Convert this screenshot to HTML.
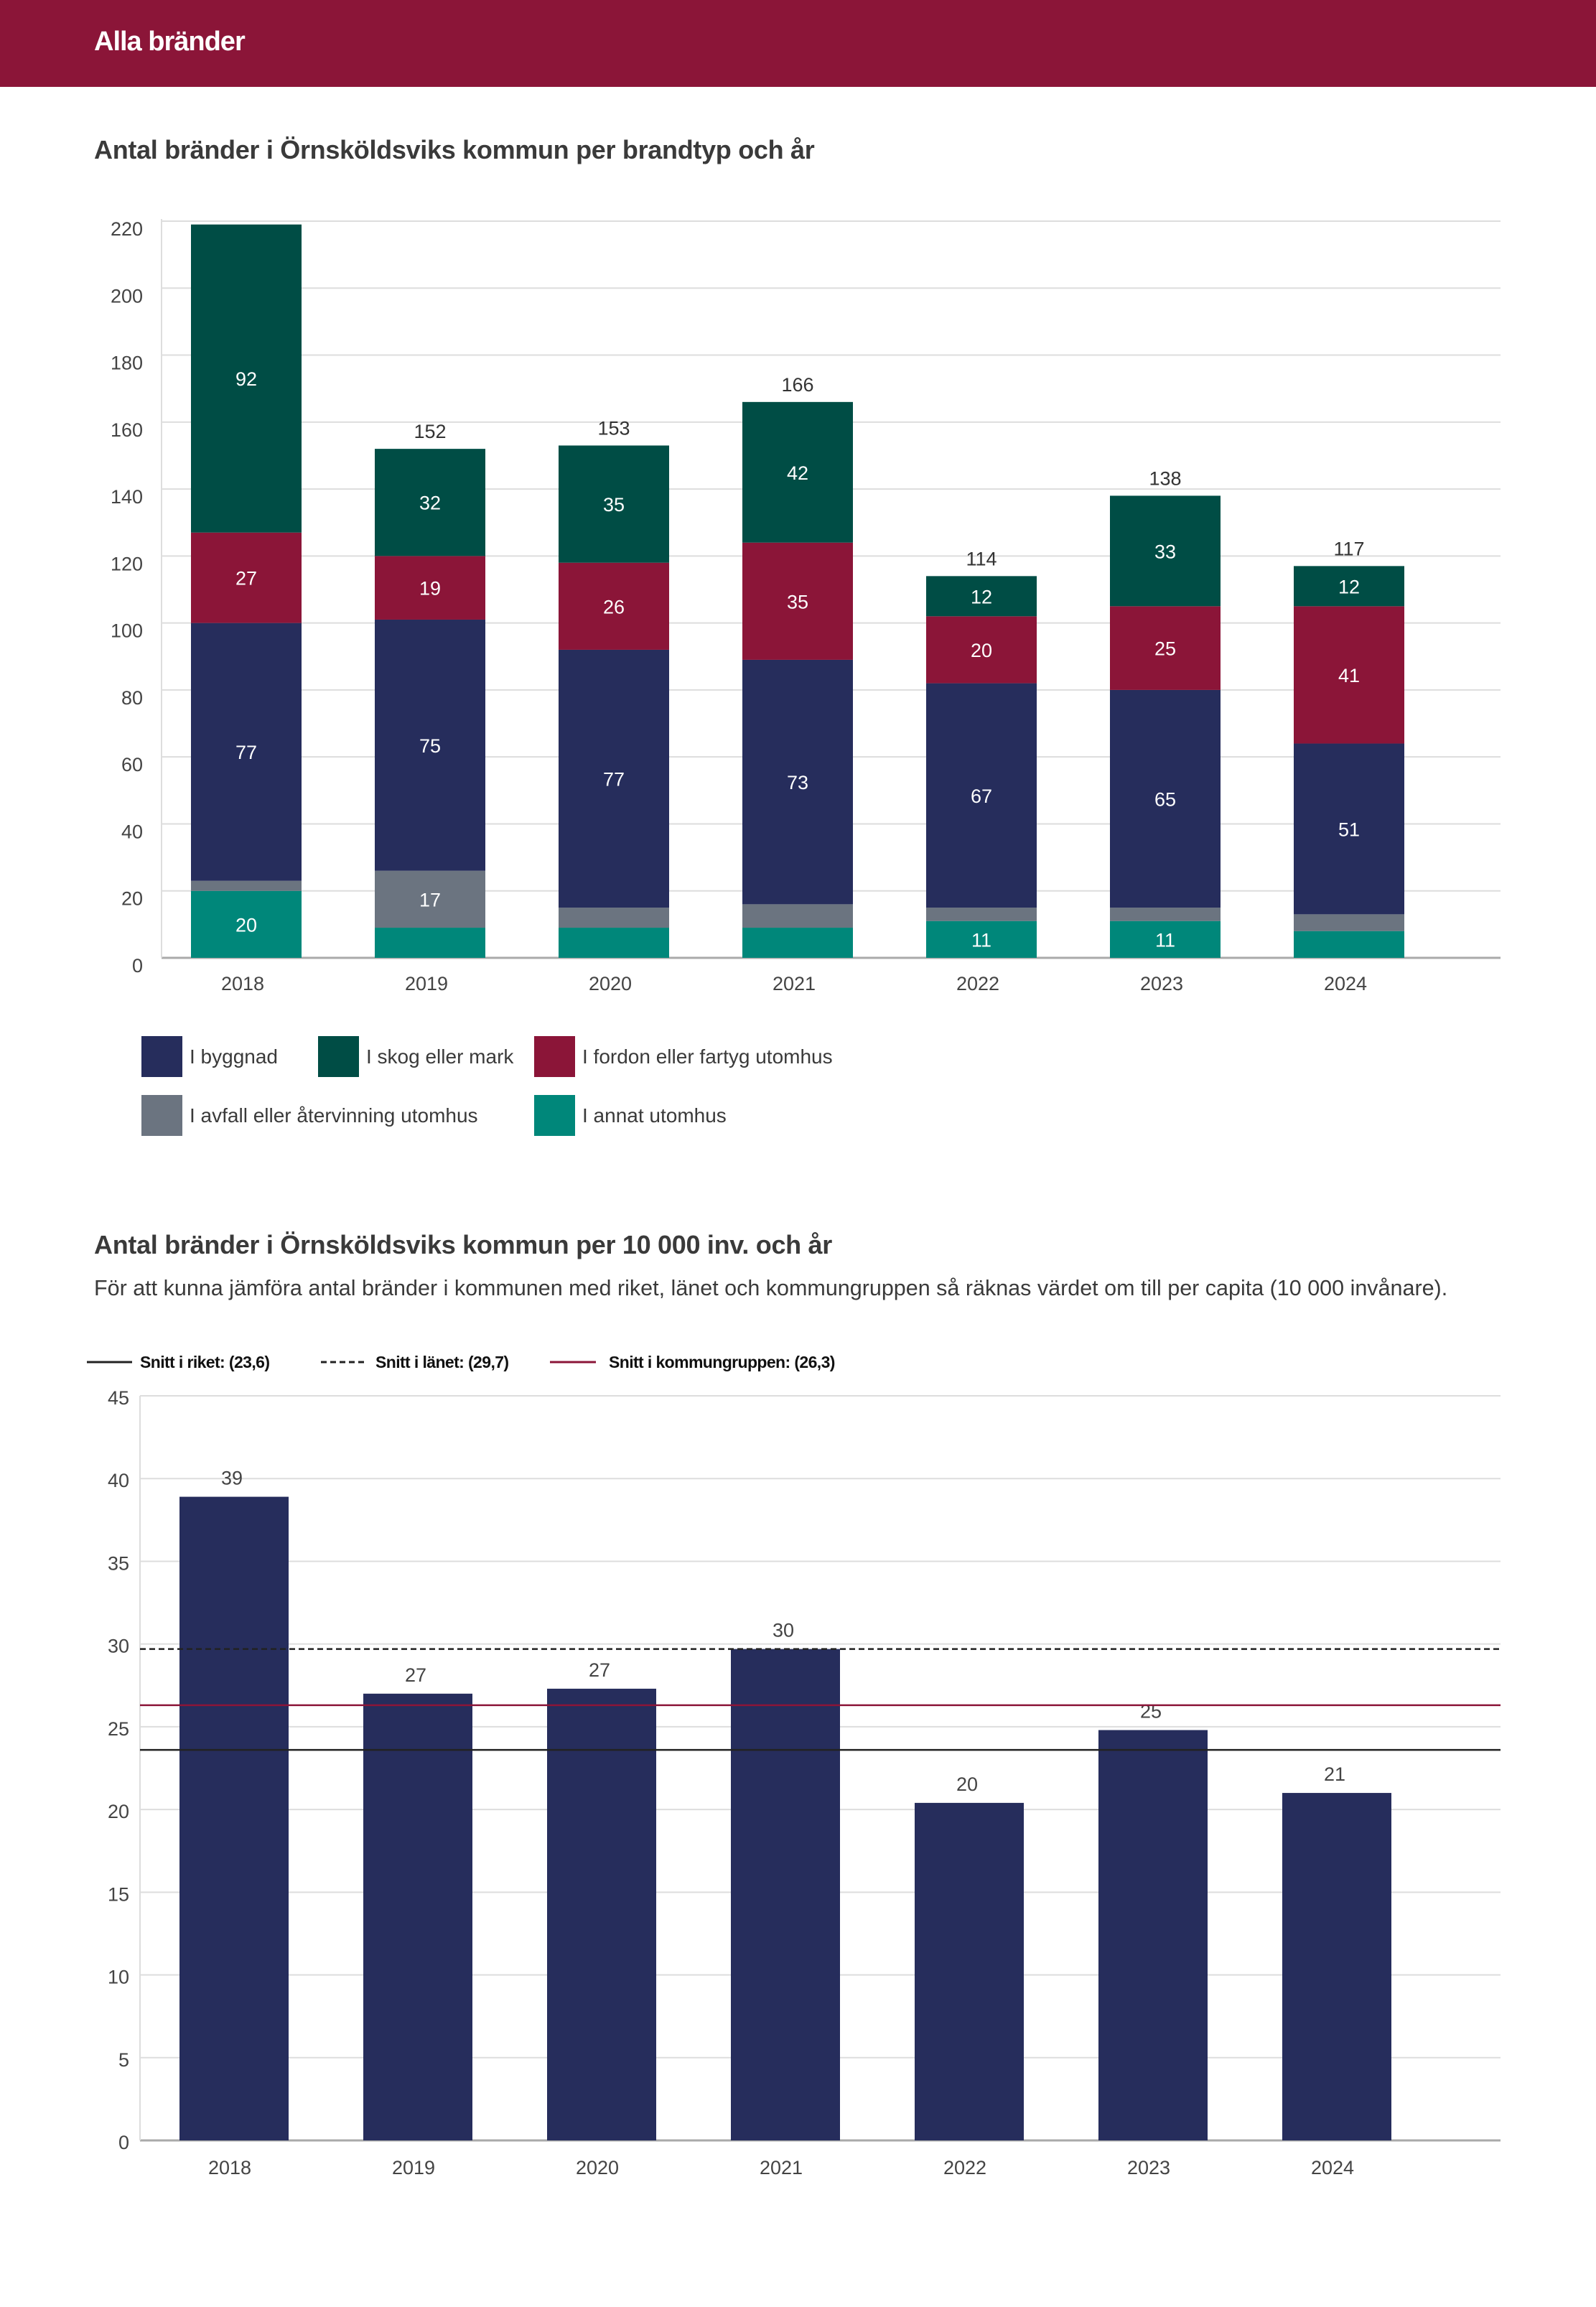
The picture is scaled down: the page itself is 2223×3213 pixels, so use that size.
<!DOCTYPE html>
<html><head><meta charset="utf-8"><style>
html,body{margin:0;padding:0;background:#fff;}
svg{display:block;font-family:"Liberation Sans",sans-serif;}
</style></head><body>
<svg id="s" width="2223" height="3213" viewBox="0 0 2223 3213" xmlns="http://www.w3.org/2000/svg">
<rect x="0" y="0" width="2223" height="121" fill="#8b1538"/>
<text x="131" y="70" font-size="38" fill="#fff" font-weight="bold" letter-spacing="-1">Alla bränder</text>
<text x="131" y="221" font-size="36" fill="#3a3a3a" font-weight="bold" letter-spacing="-0.3">Antal bränder i Örnsköldsviks kommun per brandtyp och år</text>
<g id="c1"></g>
<g font-size="28" fill="#3a3a3a">
<rect x="197" y="1443" width="57" height="57" fill="#262d5c"/><text x="264" y="1481">I byggnad</text>
<rect x="443" y="1443" width="57" height="57" fill="#004d45"/><text x="510" y="1481">I skog eller mark</text>
<rect x="744" y="1443" width="57" height="57" fill="#8b1538"/><text x="811" y="1481">I fordon eller fartyg utomhus</text>
<rect x="197" y="1525" width="57" height="57" fill="#6b7480"/><text x="264" y="1563">I avfall eller återvinning utomhus</text>
<rect x="744" y="1525" width="57" height="57" fill="#00877a"/><text x="811" y="1563">I annat utomhus</text>
</g>
<text x="131" y="1746" font-size="36" fill="#3a3a3a" font-weight="bold" letter-spacing="-0.3">Antal bränder i Örnsköldsviks kommun per 10 000 inv. och år</text>
<text x="131" y="1804" font-size="30.5" fill="#3a3a3a">För att kunna jämföra antal bränder i kommunen med riket, länet och kommungruppen så räknas värdet om till per capita (10 000 invånare).</text>
<g font-size="23" font-weight="bold" fill="#111">
<line x1="121" y1="1897" x2="184" y2="1897" stroke="#222" stroke-width="3"/><text x="195" y="1905" letter-spacing="-0.6">Snitt i riket: (23,6)</text>
<line x1="447" y1="1897" x2="508" y2="1897" stroke="#222" stroke-width="3" stroke-dasharray="8,5"/><text x="523" y="1905" letter-spacing="-0.6">Snitt i länet: (29,7)</text>
<line x1="766" y1="1897" x2="830" y2="1897" stroke="#8b1538" stroke-width="3"/><text x="848" y="1905" letter-spacing="-0.6">Snitt i kommungruppen: (26,3)</text>
</g>
<g id="c2"></g>
</svg>
<script>
const years=["2018","2019","2020","2021","2022","2023","2024"];
const annat=[20,9,9,9,11,11,8];
const avfall=[3,17,6,7,4,4,5];
const byggnad=[77,75,77,73,67,65,51];
const fordon=[27,19,26,35,20,25,41];
const skog=[92,32,35,42,12,33,12];
const ticks1=[0,20,40,60,80,100,120,140,160,180,200,220];
const perCapita=[38.9,27.0,27.3,29.7,20.4,24.8,21.0];
const perCapitaLabels=["39","27","27","30","20","25","21"];
const ticks2=[0,5,10,15,20,25,30,35,40,45];
const riket=23.6, lanet=29.7, kommungrupp=26.3;

const NS="http://www.w3.org/2000/svg";
function mk(p,t,a){const e=document.createElementNS(NS,t);for(const k in a)e.setAttribute(k,a[k]);p.appendChild(e);return e;}

// chart 1
const c1=document.getElementById('c1');
const y1=v=>1334-v*(1334-308)/220;
const x1=i=>343+i*256;
ticks1.forEach(t=>{
 const g=mk(c1,'line',{x1:225,x2:2090,y1:y1(t),y2:y1(t),stroke:t===0?'#aaa':'#ddd','stroke-width':t===0?3:2});
 
 
 const l=mk(c1,'text',{x:199,y:y1(t)+20,'text-anchor':'end','font-size':27,fill:'#444'});
 l.textContent=t;
 
 
});
const ax=mk(c1,'line',{x1:225,x2:225,y1:305,y2:1334,stroke:'#ddd','stroke-width':2});


const series=[[annat,'#00877a','annat'],[avfall,'#6b7480','avfall'],[byggnad,'#262d5c','byggnad'],[fordon,'#8b1538','fordon'],[skog,'#004d45','skog']];
years.forEach((yr,i)=>{
 let cum=0;
 series.forEach(([arr,col,nm])=>{
  const v=arr[i];
  const r=mk(c1,'rect',{x:x1(i)-77,width:154,y:y1(cum+v),height:y1(cum)-y1(cum+v),fill:col});
  
  
  if(v>=10){
   const t=mk(c1,'text',{x:x1(i),y:(y1(cum)+y1(cum+v))/2+10,'text-anchor':'middle','font-size':27,fill:'#fff'});
   t.textContent=v;
   
   
  }
  cum+=v;
 });
 if(y1(cum)-20>320){
  const t=mk(c1,'text',{x:x1(i),y:y1(cum)-15,'text-anchor':'middle','font-size':27,fill:'#333'});
  t.textContent=cum;
  
  
 }
 const xl=mk(c1,'text',{x:x1(i)-5,y:1379,'text-anchor':'middle','font-size':27,fill:'#444'});
 xl.textContent=yr;
 
 
});

// chart 2
const c2=document.getElementById('c2');
const y2=v=>2981-v*(2981-1944)/45;
const x2=i=>326+i*256;
ticks2.forEach(t=>{
 const g=mk(c2,'line',{x1:195,x2:2090,y1:y2(t),y2:y2(t),stroke:t===0?'#aaa':'#ddd','stroke-width':t===0?3:2});
 
 
 const l=mk(c2,'text',{x:180,y:y2(t)+12,'text-anchor':'end','font-size':27,fill:'#444'});
 l.textContent=t;
 
 
});
const ax2=mk(c2,'line',{x1:195,x2:195,y1:1944,y2:2981,stroke:'#ddd','stroke-width':2});


years.forEach((yr,i)=>{
 const v=perCapita[i];
 const r=mk(c2,'rect',{x:x2(i)-76,width:152,y:y2(v),height:y2(0)-y2(v),fill:'#262d5c'});
 
 
 const t=mk(c2,'text',{x:x2(i)-3,y:y2(v)-17,'text-anchor':'middle','font-size':27,fill:'#444'});
 t.textContent=perCapitaLabels[i];
 
 
 const xl=mk(c2,'text',{x:x2(i)-6,y:3028,'text-anchor':'middle','font-size':27,fill:'#444'});
 xl.textContent=yr;
 
 
});
const lr=mk(c2,'line',{x1:195,x2:2090,y1:y2(riket),y2:y2(riket),stroke:'#222','stroke-width':2.5});


const ll=mk(c2,'line',{x1:195,x2:2090,y1:y2(lanet),y2:y2(lanet),stroke:'#222','stroke-width':2.5,'stroke-dasharray':'8,5'});


const lk=mk(c2,'line',{x1:195,x2:2090,y1:y2(kommungrupp),y2:y2(kommungrupp),stroke:'#8b1538','stroke-width':2.5});


</script>
</body></html>
